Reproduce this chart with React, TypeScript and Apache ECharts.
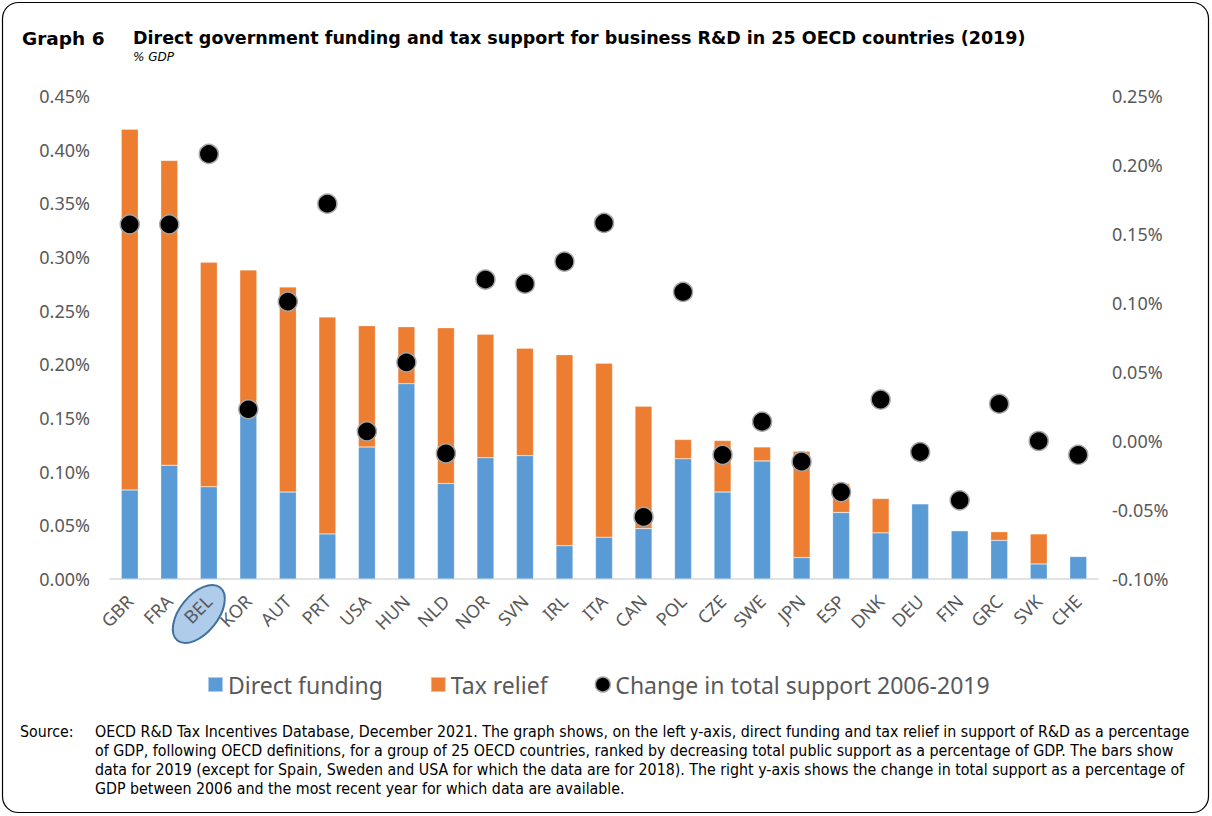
import React, { useEffect, useRef } from "react";
import * as echarts from "echarts";

const countries = ["GBR", "FRA", "BEL", "KOR", "AUT", "PRT", "USA", "HUN", "NLD", "NOR", "SVN", "IRL", "ITA", "CAN", "POL", "CZE", "SWE", "JPN", "ESP", "DNK", "DEU", "FIN", "GRC", "SVK", "CHE"];
const directFunding = [0.083, 0.106, 0.086, 0.152, 0.081, 0.042, 0.123, 0.182, 0.089, 0.113, 0.115, 0.031, 0.039, 0.047, 0.112, 0.081, 0.110, 0.020, 0.062, 0.043, 0.070, 0.045, 0.036, 0.014, 0.021];
const taxRelief = [0.336, 0.284, 0.209, 0.136, 0.191, 0.202, 0.113, 0.053, 0.145, 0.115, 0.100, 0.178, 0.162, 0.114, 0.018, 0.048, 0.013, 0.099, 0.027, 0.032, 0, 0, 0.008, 0.028, 0];
const changeTotal = [0.157, 0.157, 0.208, 0.023, 0.101, 0.172, 0.007, 0.057, -0.009, 0.117, 0.114, 0.130, 0.158, -0.055, 0.108, -0.010, 0.014, -0.015, -0.037, 0.030, -0.008, -0.043, 0.027, 0.000, -0.010];

const leftAxis = { min: 0, max: 0.45, interval: 0.05 };
const rightAxis = { min: -0.1, max: 0.25, interval: 0.05 };

const seriesNames = ["Direct funding", "Tax relief", "Change in total support 2006-2019"];
const titleLabel = "Graph 6";
const titleText = "Direct government funding and tax support for business R&D in 25 OECD countries (2019)";
const subtitleText = "% GDP";
const sourceLabel = "Source:";
const sourceLines = [
  "OECD R&D Tax Incentives Database, December 2021. The graph shows, on the left y-axis, direct funding and tax relief in support of R&D as a percentage",
  "of GDP, following OECD definitions, for a group of 25 OECD countries, ranked by decreasing total public support as a percentage of GDP. The bars show",
  "data for 2019 (except for Spain, Sweden and USA for which the data are for 2018). The right y-axis shows the change in total support as a percentage of",
  "GDP between 2006 and the most recent year for which data are available.",
];
const highlighted = "BEL";

const fmt = (v: number) => {
  let r = Math.round(v * 100) / 100;
  if (Math.abs(r) < 1e-9) r = 0;
  return r.toFixed(2) + "%";
};

const GRAY = "#595959";
const AXIS_FONT = "'Noto Sans', 'Open Sans', sans-serif";
const NARROW_FONT = "'Liberation Sans Narrow', 'DejaVu Sans Condensed', 'Noto Sans', sans-serif";

export default function App() {
  const ref = useRef<HTMLDivElement>(null);
  useEffect(() => {
    if (!ref.current) return;
    const chart = echarts.init(ref.current, undefined, { renderer: "svg" });
    const gridLeft = 110;
    const gridRight = 114;
    const plotW = 1212 - gridLeft - gridRight;
    const catW = plotW / countries.length;
    const hiIdx = countries.indexOf(highlighted);
    const hiX = gridLeft + catW * (hiIdx + 0.5);

    const graphics: any[] = [
      {
        type: "rect",
        shape: { x: 2.5, y: 2.5, width: 1206, height: 810, r: 16 },
        style: { fill: "none", stroke: "#000", lineWidth: 1.2 },
        z: 0,
      },
      {
        type: "ellipse",
        x: hiX - 10,
        y: 614,
        rotation: (51 * Math.PI) / 180,
        shape: { cx: 0, cy: 0, rx: 34, ry: 19 },
        style: { fill: "#afcdea", stroke: "#41719c", lineWidth: 2 },
        z: -1,
      },
      {
        type: "text",
        x: 22,
        y: 38,
        style: { text: titleLabel, fontSize: 18.5, fontWeight: "bold", fontFamily: "'DejaVu Sans', sans-serif", fill: "#000", verticalAlign: "middle" },
      },
      {
        type: "text",
        x: 133,
        y: 38,
        style: { text: titleText, fontSize: 17.5, fontWeight: "bold", fontFamily: "'DejaVu Sans', sans-serif", fill: "#000", verticalAlign: "middle" },
      },
      {
        type: "text",
        x: 133,
        y: 57,
        style: { text: subtitleText, fontSize: 12, fontStyle: "italic", fontFamily: "'DejaVu Sans', sans-serif", fill: "#000", verticalAlign: "middle" },
      },
      {
        type: "text",
        x: 20,
        y: 731,
        style: { text: sourceLabel, fontSize: 15.8, fontFamily: NARROW_FONT, fill: "#000", verticalAlign: "middle" },
      },
      ...sourceLines.map((line, i) => ({
        type: "text",
        x: 95,
        y: 731 + i * 19.3,
        style: { text: line, fontSize: 15.8, fontFamily: NARROW_FONT, fill: "#000", verticalAlign: "middle" },
      })),
    ];

    chart.setOption({
      animation: false,
      backgroundColor: "#fff",
      grid: { left: gridLeft, right: gridRight, top: 96, bottom: 237, containLabel: false },
      legend: {
        top: 673,
        left: 207,
        padding: 0,
        itemWidth: 15,
        itemHeight: 15,
        itemGap: 47,
        textStyle: { fontSize: 23, color: GRAY, fontFamily: AXIS_FONT },
        data: [
          { name: seriesNames[0], icon: "rect" },
          { name: seriesNames[1], icon: "rect" },
          { name: seriesNames[2], icon: "circle", itemStyle: { color: "#000", borderColor: "#a6a6a6", borderWidth: 1.5 } },
        ],
      },
      xAxis: {
        type: "category",
        data: countries,
        axisLine: { lineStyle: { color: "#d9d9d9", width: 1.5 } },
        axisTick: { show: false },
        axisLabel: { rotate: 45, color: GRAY, fontSize: 18, fontFamily: AXIS_FONT, margin: 19, interval: 0 },
      },
      yAxis: [
        {
          type: "value",
          ...leftAxis,
          axisLine: { show: false },
          axisTick: { show: false },
          splitLine: { show: false },
          axisLabel: { formatter: fmt, color: GRAY, fontSize: 18, fontFamily: AXIS_FONT, margin: 20 },
        },
        {
          type: "value",
          ...rightAxis,
          position: "right",
          axisLine: { show: false },
          axisTick: { show: false },
          splitLine: { show: false },
          axisLabel: { formatter: fmt, color: GRAY, fontSize: 18, fontFamily: AXIS_FONT, margin: 14 },
        },
      ],
      series: [
        {
          name: seriesNames[0],
          type: "bar",
          stack: "total",
          data: directFunding,
          barWidth: 17,
          itemStyle: { color: "#5b9bd5", borderColor: "rgba(255,255,255,0.5)", borderWidth: 0.5 },
        },
        {
          name: seriesNames[1],
          type: "bar",
          stack: "total",
          data: taxRelief,
          barWidth: 17,
          itemStyle: { color: "#ed7d31", borderColor: "rgba(255,255,255,0.5)", borderWidth: 0.5 },
        },
        {
          name: seriesNames[2],
          type: "scatter",
          yAxisIndex: 1,
          data: changeTotal,
          symbol: "circle",
          symbolSize: 19,
          itemStyle: { color: "#000", opacity: 1, borderColor: "#a6a6a6", borderWidth: 1.5 },
          z: 5,
        },
      ],
      graphic: graphics,
    });
    return () => chart.dispose();
  }, []);
  return <div ref={ref} style={{ position: "fixed", left: 0, top: 0, width: 1212, height: 816 }} />;
}
